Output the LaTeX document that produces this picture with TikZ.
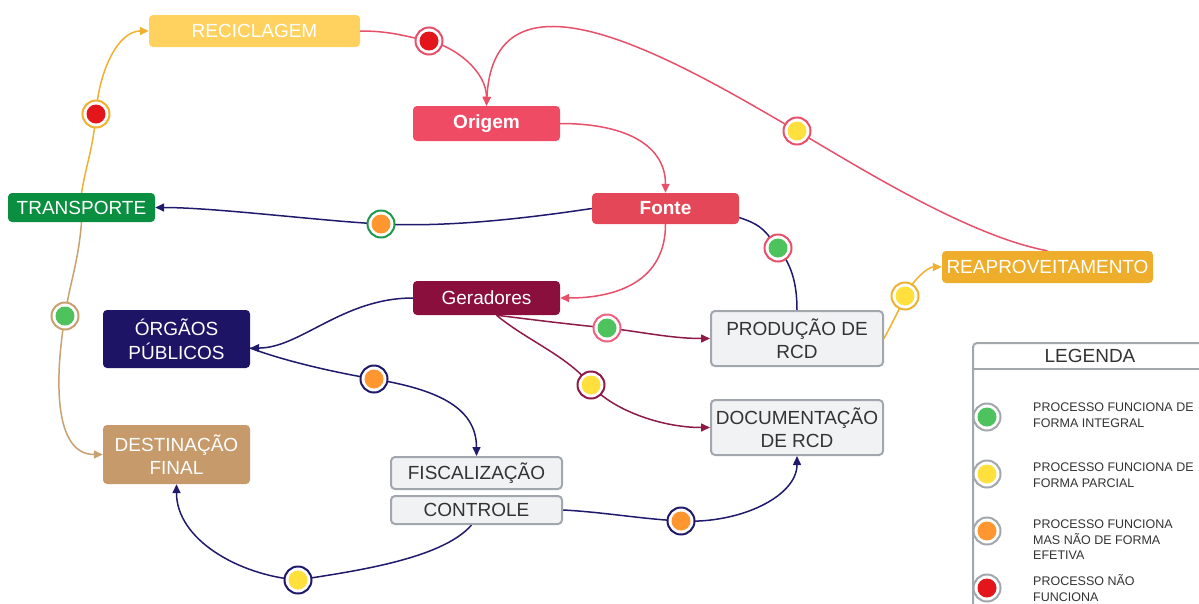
\documentclass[tikz,border=0pt]{standalone}
\usepackage{fontspec}
\setmainfont{Liberation Sans}
\usetikzlibrary{arrows.meta}
\pgfdeclarelayer{bg}
\pgfsetlayers{bg,main}
\definecolor{cpink}{HTML}{E8506A}
\definecolor{cpinkb}{HTML}{F06080}
\definecolor{cnavy}{HTML}{201A6C}
\definecolor{cmaroon}{HTML}{8E1A48}
\definecolor{corgl}{HTML}{F0B030}
\definecolor{ctan}{HTML}{C9A070}
\definecolor{cgreenb}{HTML}{1E9A50}
\definecolor{dgreen}{HTML}{4EC25C}
\definecolor{dyellow}{HTML}{FFE03C}
\definecolor{dorange}{HTML}{FF9630}
\definecolor{dred}{HTML}{E3161B}
\definecolor{frecic}{HTML}{FFD15E}
\definecolor{forig}{HTML}{EF4B65}
\definecolor{ffonte}{HTML}{E44858}
\definecolor{ftrans}{HTML}{0A8E3F}
\definecolor{fger}{HTML}{8A0F3C}
\definecolor{forg}{HTML}{1E1466}
\definecolor{freap}{HTML}{EEAE2C}
\definecolor{fdest}{HTML}{C69A6A}
\definecolor{flight}{HTML}{F1F2F4}
\definecolor{blight}{HTML}{A2A6AD}
\definecolor{tdark}{HTML}{333333}
\tikzset{
  box/.style={rectangle, rounded corners=4pt, inner sep=0pt, align=center,
    font=\fontsize{19}{23.5}\selectfont, text=white},
  lbox/.style={box, fill=flight, draw=blight, line width=2pt, text=tdark},
  conn/.style={line width=1.5pt},
  arr/.style={-{Triangle[length=9pt,width=8pt]}},
  badge/.style 2 args={circle, draw=#1, line width=2pt, fill=white,
    minimum size=27pt, inner sep=0pt,
    path picture={\fill[#2] (path picture bounding box.center) circle[radius=9.5pt];}},
  legtext/.style={anchor=west, align=left, inner sep=0pt,
    font=\fontsize{12.5}{15.5}\selectfont, text=tdark}
}
\begin{document}
\begin{tikzpicture}[x=1pt,y=-1pt]
\useasboundingbox (0,0) rectangle (1199,603);
% nodes
\node[box, fill=frecic, minimum width=211pt, minimum height=32pt] (recic) at (254.5,31) {RECICLAGEM};
\node[box, fill=forig, minimum width=147pt, minimum height=35pt, font=\fontsize{19}{23.5}\selectfont\bfseries] (orig) at (486.5,123.5) {Origem};
\node[box, fill=ffonte, minimum width=147pt, minimum height=31pt, font=\fontsize{19}{23.5}\selectfont\bfseries] (fonte) at (665.5,208.5) {Fonte};
\node[box, fill=ftrans, minimum width=147pt, minimum height=29pt] (trans) at (81.5,207.5) {TRANSPORTE};
\node[box, fill=fger, minimum width=147pt, minimum height=34pt] (ger) at (486.5,298) {Geradores};
\node[box, fill=forg, minimum width=147pt, minimum height=58pt] (org) at (176.5,339) {ÓRGÃOS\\PÚBLICOS};
\node[box, fill=freap, minimum width=211pt, minimum height=32pt] (reap) at (1047.5,267) {REAPROVEITAMENTO};
\node[lbox, minimum width=172pt, minimum height=55pt] (prod) at (797,338.5) {PRODUÇÃO DE\\RCD};
\node[lbox, minimum width=172pt, minimum height=55pt] (doc) at (797,427.5) {DOCUMENTAÇÃO\\DE RCD};
\node[box, fill=fdest, minimum width=147pt, minimum height=59pt] (dest) at (176.5,454.5) {DESTINAÇÃO\\FINAL};
\node[lbox, minimum width=171pt, minimum height=32pt] (fisc) at (476.5,473) {FISCALIZAÇÃO};
\node[lbox, minimum width=171pt, minimum height=28pt] (ctrl) at (476.5,510) {CONTROLE};
% badges
\node[badge={cpink}{dred}] (b1) at (429,41) {};
\node[badge={cpink}{dyellow}] (b2) at (797,131) {};
\node[badge={cgreenb}{dorange}] (b5) at (381,224) {};
\node[badge={cpink}{dgreen}] (b6) at (778,248) {};
\node[badge={cnavy}{dorange}] (b8) at (374,379) {};
\node[badge={cpinkb}{dgreen}] (b9) at (607,328) {};
\node[badge={cmaroon}{dyellow}] (b10) at (591,385) {};
\node[badge={corgl}{dyellow}] (b11) at (905,296) {};
\node[badge={corgl}{dred}] (b12) at (96,114) {};
\node[badge={ctan}{dgreen}] (b13) at (65,316) {};
\node[badge={cnavy}{dorange}] (b14) at (681,521) {};
\node[badge={cnavy}{dyellow}] (b15) at (298,580) {};
% connectors
\begin{pgfonlayer}{bg}
\draw[conn, cpink, arr] (recic.east) .. controls +(30,0) and +(-25,-5) .. (b1.center) .. controls +(25,5) and +(0,-35) .. (orig.north);
\draw[conn, cpink, arr] (reap.north) .. controls +(-80,-15) and +(60,35) .. (b2.center) .. controls +(-110,-64) and +(8,-155) .. (orig.north);
\draw[conn, cpink, arr] (orig.east) .. controls +(70,0) and +(0,-45) .. (fonte.north);
\draw[conn, cpink, arr] (fonte.south) .. controls +(0,55) and +(60,0) .. (ger.east);
\draw[conn, cnavy, arr] (fonte.west) .. controls +(-80,12) and +(60,3) .. (b5.center) .. controls +(-60,-3) and +(60,0) .. (trans.east);
\draw[conn, cnavy] (fonte.-7) .. controls +(25,8) and +(-12,-15) .. (b6.center) .. controls +(12,15) and +(0,-30) .. (prod.north);
\draw[conn, cnavy, arr] (ger.west) .. controls +(-70,0) and +(50,0) .. (org.-7);
\draw[conn, cnavy, arr] (org.-7) .. controls +(40,15) and +(-30,-5) .. (b8.center) .. controls +(60,10) and +(0,-50) .. (fisc.north);
\draw[conn, cmaroon, arr] ([xshift=10pt]ger.south) .. controls +(40,5) and +(-40,-4) .. (b9.center) .. controls +(30,3) and +(-40,0) .. (prod.west);
\draw[conn, cmaroon, arr] ([xshift=10pt]ger.south) .. controls +(30,25) and +(-25,-30) .. (b10.center) .. controls +(20,24) and +(-50,0) .. (doc.west);
\draw[conn, corgl, arr] (prod.east) .. controls +(8,-15) and +(-5,12) .. (b11.center) .. controls +(5,-12) and +(-15,0) .. (reap.west);
\draw[conn, corgl, arr] (trans.north) .. controls +(5,-30) and +(-3,35) .. (b12.center) .. controls +(3,-45) and +(-30,0) .. (recic.west);
\draw[conn, ctan, arr] (trans.south) .. controls +(-3,40) and +(4,-30) .. (b13.center) .. controls +(-10,60) and +(-50,0) .. (dest.west);
\draw[conn, cnavy, arr] (ctrl.east) .. controls +(40,2) and +(-40,-2) .. (b14.center) .. controls +(60,3) and +(0,40) .. (doc.south);
\draw[conn, cnavy, arr] ([xshift=-5pt]ctrl.south) .. controls +(-30,35) and +(50,-8) .. (b15.center) .. controls +(-60,-5) and +(0,55) .. (dest.south);
\end{pgfonlayer}
% legend
\node[draw=blight, line width=2pt, rounded corners=4pt, fill=white, minimum width=236pt, minimum height=290pt, anchor=north west, inner sep=0pt] (legend) at (972,342) {};
\draw[blight, line width=2pt] (legend.west |- 0,369) -- (legend.east |- 0,369);
\node[font=\fontsize{19}{23.5}\selectfont, text=tdark, inner sep=0pt] (leghead) at (1090,355.5) {LEGENDA};
\node[badge={blight}{dgreen}] (lg1) at (987,417) {};
\node[badge={blight}{dyellow}] (lg2) at (987,474) {};
\node[badge={blight}{dorange}] (lg3) at (987,531) {};
\node[badge={blight}{dred}] (lg4) at (987,588) {};
\node[legtext] (lt1) at (1033,415) {PROCESSO FUNCIONA DE\\FORMA INTEGRAL};
\node[legtext] (lt2) at (1033,475) {PROCESSO FUNCIONA DE\\FORMA PARCIAL};
\node[legtext] (lt3) at (1033,540) {PROCESSO FUNCIONA\\MAS NÃO DE FORMA\\EFETIVA};
\node[legtext] (lt4) at (1033,588) {PROCESSO NÃO\\FUNCIONA};
\end{tikzpicture}
\end{document}
